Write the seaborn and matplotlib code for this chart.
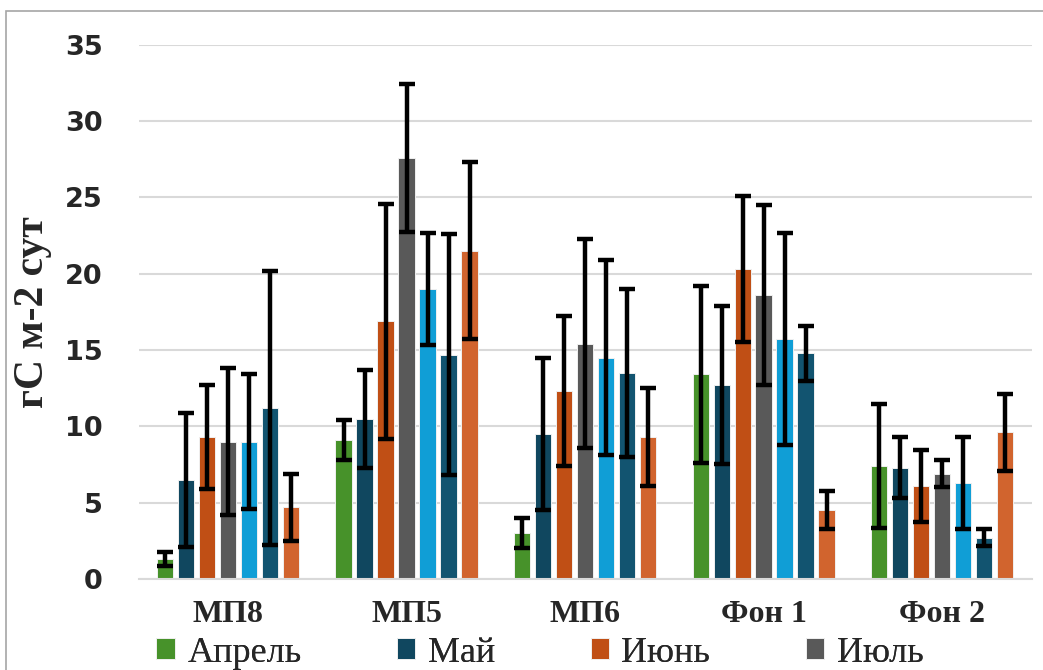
import numpy as np
import pandas as pd
import seaborn as sns
import matplotlib.pyplot as plt
from matplotlib.patches import Rectangle

sites = ['МП8', 'МП5', 'МП6', 'Фон 1', 'Фон 2']
months = ['Апрель', 'Май', 'Июнь', 'Июль', 'Август', 'Сентябрь', 'Октябрь']

# mean values, one list per site (Apr..Oct)
mp8 = [1.3, 6.5, 9.3, 9.0, 9.0, 11.2, 4.7]
mp5 = [9.1, 10.5, 16.9, 27.6, 19.0, 14.7, 21.5]
mp6 = [3.0, 9.5, 12.3, 15.4, 14.5, 13.5, 9.3]
fon1 = [13.4, 12.7, 20.3, 18.6, 15.7, 14.8, 4.5]
fon2 = [7.4, 7.3, 6.1, 6.9, 6.3, 2.7, 9.6]

# error bar half-lengths
err_mp8 = [0.45, 4.4, 3.4, 4.8, 4.45, 9.0, 2.2]
err_mp5 = [1.3, 3.2, 7.7, 4.85, 3.7, 7.9, 5.8]
err_mp6 = [1.0, 5.0, 4.9, 6.85, 6.4, 5.5, 3.2]
err_fon1 = [5.8, 5.2, 4.8, 5.9, 6.95, 1.8, 1.25]
err_fon2 = [4.05, 2.0, 2.35, 0.9, 3.0, 0.55, 2.5]

colors = ['#47922A', '#10475F', '#C04F15', '#595959', '#109ED6', '#125470', '#D1642E']

vals = [mp8, mp5, mp6, fon1, fon2]
errs = [err_mp8, err_mp5, err_mp6, err_fon1, err_fon2]

rows = []
for s, v, e in zip(sites, vals, errs):
    for m, vv, ee in zip(months, v, e):
        rows.append({'site': s, 'month': m, 'value': vv, 'err': ee})
df = pd.DataFrame(rows)

sns.set_style('white')
fig = plt.figure(figsize=(10.43, 6.7), dpi=100)
ax = fig.add_axes([0.133, 0.136, 0.856, 0.797])

sns.barplot(data=df, x='site', y='value', hue='month', palette=colors,
            saturation=1, width=0.823, gap=0.22, edgecolor='#f0f0f0',
            linewidth=0.7, errorbar=None, ax=ax)

# error bars on top of each bar
bar_conts = list(ax.containers)
for i, cont in enumerate(bar_conts):
    sub = df[df['month'] == months[i]]
    xs = [b.get_x() + b.get_width() / 2 for b in cont]
    ax.errorbar(xs, sub['value'].values, yerr=sub['err'].values, fmt='none',
                ecolor='black', elinewidth=3.2, capsize=5.5, capthick=3.2, zorder=5)

ax.set_xlim(-0.5, len(sites) - 0.5)
ax.set_ylim(0, 35)
ax.set_yticks(range(0, 36, 5))
ax.grid(axis='y', color='#d9d9d9', linewidth=1.5)
ax.set_axisbelow(True)
for sp in ['top', 'right', 'left']:
    ax.spines[sp].set_visible(False)
ax.spines['bottom'].set_color('#d9d9d9')
ax.spines['bottom'].set_linewidth(1.5)
ax.tick_params(axis='both', length=0)
ax.tick_params(axis='y', pad=26)
ax.tick_params(axis='x', pad=15)

for lab in ax.get_yticklabels():
    lab.set_fontfamily('DejaVu Sans')
    lab.set_fontweight('bold')
    lab.set_fontsize(19.5)
for lab in ax.get_xticklabels():
    lab.set_fontfamily('Liberation Serif')
    lab.set_fontweight('bold')
    lab.set_fontsize(23)

ax.set_xlabel('')
ax.set_ylabel('гС м-2 сут', fontfamily='Liberation Serif', fontweight='bold', fontsize=30)
ax.yaxis.set_label_coords(-0.097, 0.5)

handles, labels = ax.get_legend_handles_labels()
ax.get_legend().remove()
leg_kw = dict(ncol=4, frameon=False, prop={'family': 'Liberation Serif', 'size': 26},
              handlelength=0.5, handleheight=0.5, handletextpad=0.35,
              columnspacing=2.65, borderpad=0, borderaxespad=0, loc='upper left')
# first row of the legend (visible, cut at the bottom like the reference)
leg1 = fig.legend(handles[:4], labels[:4], bbox_to_anchor=(0.150, 0.050), **leg_kw)
# second row falls below the figure edge
fig.legend(handles[4:], labels[4:], bbox_to_anchor=(0.150, -0.01), **leg_kw)
fig.add_artist(leg1)

fig.patches.append(Rectangle((0.006, -0.1), 1.1, 1.084, transform=fig.transFigure,
                             fill=False, edgecolor='#a6a6a6', linewidth=1.2))

fig.savefig('out.png', dpi=100)
